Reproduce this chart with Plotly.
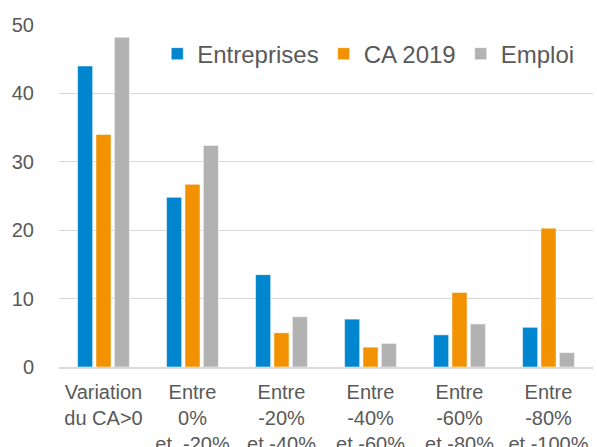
import plotly.graph_objects as go

categories = [
    "Variation<br>du CA>0",
    "Entre<br>0%<br>et  -20%",
    "Entre<br>-20%<br>et -40%",
    "Entre<br>-40%<br>et -60%",
    "Entre<br>-60%<br>et -80%",
    "Entre<br>-80%<br>et -100%",
]
entreprises = [44.0, 24.8, 13.5, 7.0, 4.7, 5.8]
ca_2019 = [34.0, 26.7, 5.0, 2.9, 10.9, 20.3]
emploi = [48.2, 32.4, 7.35, 3.45, 6.3, 2.1]

series = [
    ("Entreprises", entreprises, "#0085CF"),
    ("CA 2019", ca_2019, "#F39200"),
    ("Emploi", emploi, "#B2B2B2"),
]

fig = go.Figure()
for name, vals, color in series:
    fig.add_trace(go.Bar(
        x=categories, y=vals, name=name,
        marker=dict(color=color, line=dict(color="rgba(255,255,255,0.5)", width=1)),
    ))

font_color = "#595959"
fig.update_layout(
    width=597, height=447,
    margin=dict(l=59, r=4, t=25, b=80, autoexpand=False),
    paper_bgcolor="white", plot_bgcolor="white",
    font=dict(family="Liberation Sans, Arial, sans-serif", size=20, color=font_color),
    barmode="group", bargap=0.38, bargroupgap=0.18,
    showlegend=True,
    legend=dict(
        orientation="h", x=0.184, xanchor="left", y=0.915, yanchor="middle",
        font=dict(size=24, color=font_color), bgcolor="rgba(0,0,0,0)",
        traceorder="normal", itemwidth=30,
    ),
    xaxis=dict(
        showgrid=False, showline=True, linecolor="#D9D9D9", linewidth=2,
        ticks="outside", ticklen=6, tickcolor="rgba(0,0,0,0)",
        tickfont=dict(size=20, color=font_color), automargin=False,
    ),
    yaxis=dict(
        range=[0, 50], dtick=10, showgrid=True, gridcolor="#D9D9D9", gridwidth=1,
        zeroline=False, showline=False,
        ticks="outside", ticklen=20, tickcolor="rgba(0,0,0,0)",
        tickfont=dict(size=20, color=font_color), automargin=False,
    ),
)

fig.write_html(
    "out.html",
    config={"displayModeBar": False},
    post_script="document.body.style.margin='0';document.body.style.overflow='hidden';",
)
